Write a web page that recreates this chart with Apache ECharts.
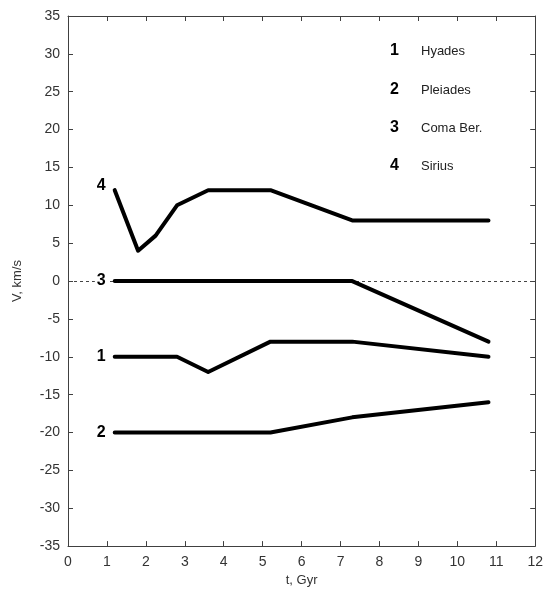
<!DOCTYPE html>
<html><head><meta charset="utf-8">
<script src="https://cdn.jsdelivr.net/npm/echarts@6/dist/echarts.min.js"></script>
<style>html,body{margin:0;padding:0;background:#fff}#c{width:546px;height:592px}</style>
</head><body><div id="c"></div>
<script>
var xTicks = [0,1,2,3,4,5,6,7,8,9,10,11,12];
var yTicks = [-35,-30,-25,-20,-15,-10,-5,0,5,10,15,20,25,30,35];
var seriesNames = ['Hyades','Pleiades','Coma Ber.','Sirius'];
var seriesIds = ['1','2','3','4'];
var hyades = [[1.2,-10],[2.8,-10],[3.6,-12],[5.2,-8],[7.3,-8],[10.8,-10]];
var pleiades = [[1.2,-20],[5.2,-20],[7.3,-18],[10.8,-16]];
var comaBer = [[1.2,0],[7.3,0],[10.8,-8]];
var sirius = [[1.2,12],[1.8,4],[2.25,6],[2.8,10],[3.6,12],[5.2,12],[7.3,8],[10.8,8]];
var allData = [hyades, pleiades, comaBer, sirius];

var FONT = 'Liberation Sans, Arial, sans-serif';
var chart = echarts.init(document.getElementById('c'));
var axisCommon = {
  type:'value',
  axisLine:{show:true,onZero:false,lineStyle:{color:'#404040',width:1}},
  axisTick:{show:true,inside:true,length:5,lineStyle:{color:'#404040'}},
  splitLine:{show:false}
};
var labelOffsets = [[0,0],[0,0],[0,0],[0,-5]];
var series = allData.map(function(d,i){
  var data = d.map(function(p,j){
    if(j===0){
      return {value:p,label:{show:true,position:'left',distance:7,offset:labelOffsets[i],formatter:seriesIds[i],
        fontFamily:FONT,fontWeight:'bold',fontSize:16,color:'#000',backgroundColor:'#fff',padding:[0,2]}};
    }
    return p;
  });
  var s = {type:'line',name:seriesNames[i],data:data,symbol:'circle',showSymbol:true,symbolSize:0.01,
    label:{show:false},
    lineStyle:{color:'#000',width:4,cap:'round',join:'round'},itemStyle:{color:'#000'},animation:false,z:3};
  if(i===2){
    s.markLine = {silent:true,symbol:'none',label:{show:false},
      lineStyle:{color:'#444',type:[3,3],width:1},data:[{yAxis:0}],z:1};
  }
  return s;
});
var graphics = [];
var ly = [52,91,129,167];
for(var i=0;i<4;i++){
  graphics.push({type:'text',left:390,top:ly[i]-9,style:{text:seriesIds[i],font:'bold 16px '+FONT,fill:'#000'}});
  graphics.push({type:'text',left:421,top:ly[i]-7,style:{text:seriesNames[i],font:'13px '+FONT,fill:'#222'}});
}
chart.setOption({
  animation:false,
  grid:{left:68,right:8,top:16,bottom:44,containLabel:false},
  xAxis:[
    Object.assign({},axisCommon,{position:'bottom',min:0,max:12,interval:1,name:'t, Gyr',nameLocation:'middle',nameGap:24,
      nameTextStyle:{fontFamily:FONT,fontSize:13,color:'#333'},
      axisLabel:{fontFamily:FONT,fontSize:14,color:'#333',margin:9}}),
    Object.assign({},axisCommon,{position:'top',min:0,max:12,interval:1,axisLabel:{show:false}})
  ],
  yAxis:[
    Object.assign({},axisCommon,{position:'left',min:-35,max:35,interval:5,name:'V, km/s',nameLocation:'middle',nameGap:44,
      nameTextStyle:{fontFamily:FONT,fontSize:13,color:'#333'},
      axisLabel:{fontFamily:FONT,fontSize:14,color:'#333',margin:8}}),
    Object.assign({},axisCommon,{position:'right',min:-35,max:35,interval:5,axisLabel:{show:false}})
  ],
  series:series,
  graphic:graphics
});
</script></body></html>
